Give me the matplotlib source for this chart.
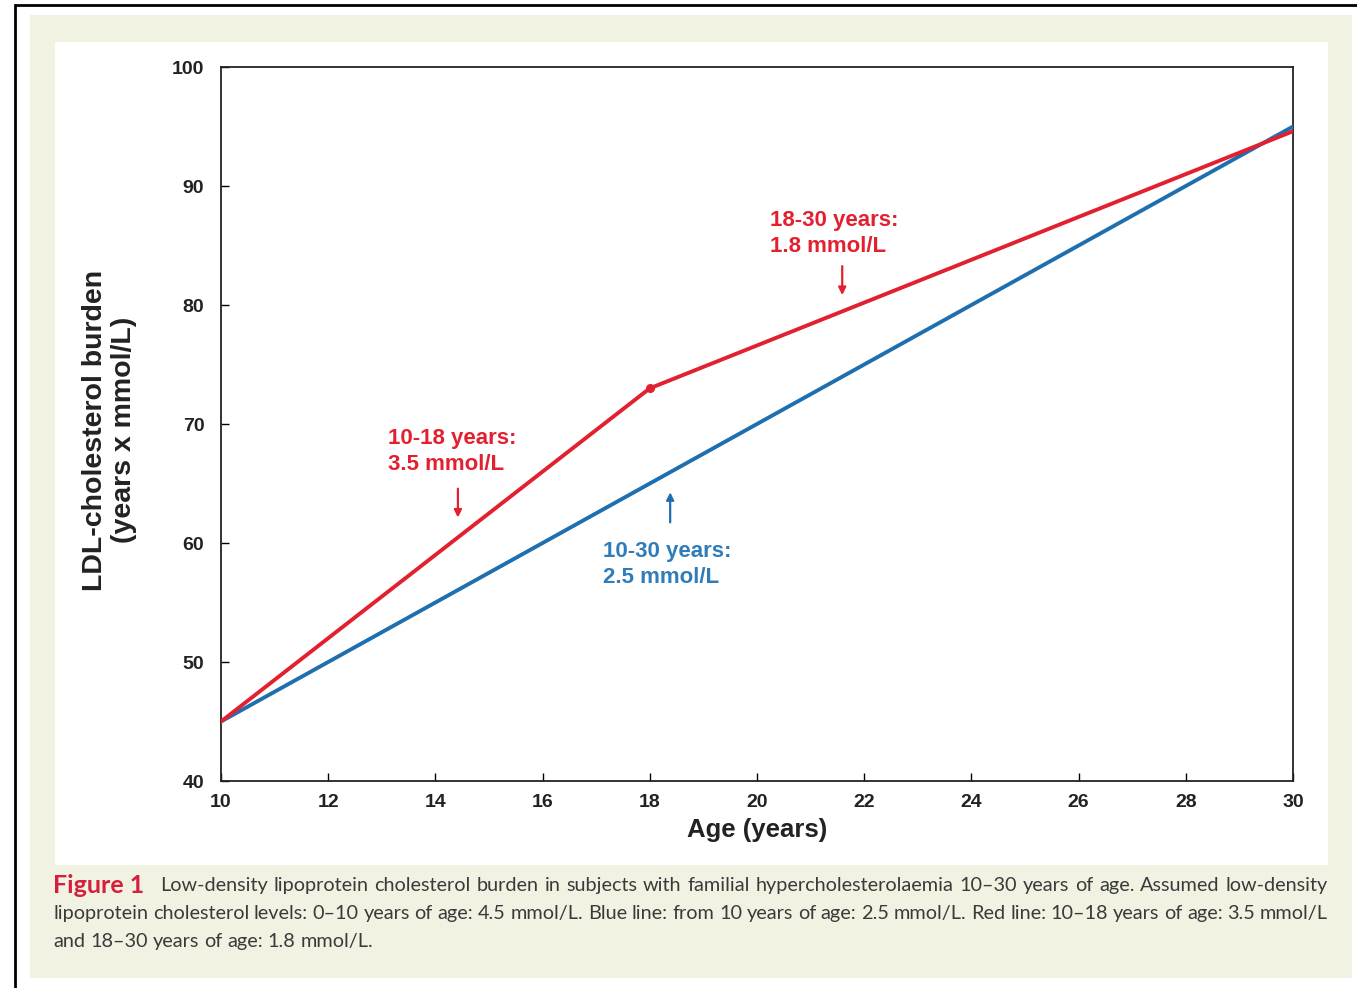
import matplotlib
matplotlib.use("Agg")
from matplotlib import pyplot as plt
from matplotlib.patches import Rectangle

# data
ages_blue = [10, 30]
burden_blue = [45, 95]
ages_red = [10, 18, 30]
burden_red = [45, 73, 94.6]

x_ticks = [10, 12, 14, 16, 18, 20, 22, 24, 26, 28, 30]
y_ticks = [40, 50, 60, 70, 80, 90, 100]

caption_lines = [
    "Low-density lipoprotein cholesterol burden in subjects with familial "
    "hypercholesterolaemia 10\u201330 years of age. Assumed low-density",
    "lipoprotein cholesterol levels: 0\u201310 years of age: 4.5 mmol/L. Blue line: from 10 "
    "years of age: 2.5 mmol/L. Red line: 10\u201318 years of age: 3.5 mmol/L",
    "and 18\u201330 years of age: 1.8 mmol/L.",
]

RED = "#e3202f"
BLUE = "#1f6faf"
BLUE_TEXT = "#2f7cbb"
BEIGE = "#f2f2e2"

W, H = 1357, 988


def px(x, y):
    """pixel (from top-left) -> figure fraction"""
    return x / W, 1 - y / H


def justify_line(fig, y, x0, x1, text, **kw):
    """place words so the line fills x0..x1 (pixels)"""
    words = text.split(" ")
    r = fig.canvas.get_renderer()
    texts = [fig.text(0, 1 - y / H, w, **kw) for w in words]
    widths = [t.get_window_extent(r).width for t in texts]
    if x1 is None:
        gap = texts[0].get_fontsize() * 100 / 72 * 0.25
    else:
        gap = (x1 - x0 - sum(widths)) / (len(words) - 1)
    x = x0
    for t, w in zip(texts, widths):
        t.set_x(x / W)
        x += w + gap


fig = plt.figure(figsize=(W / 100, H / 100), dpi=100)
fig.patch.set_facecolor("white")

# outer frame, beige panel, white plot panel
fig.add_artist(Rectangle(px(15, 1000), (W + 20) / W, 995 / H, transform=fig.transFigure,
                         facecolor="white", edgecolor="black", linewidth=2, zorder=0))
fig.add_artist(Rectangle(px(30, 978), 1322 / W, 963 / H, transform=fig.transFigure,
                         facecolor=BEIGE, edgecolor="none", zorder=0))
fig.add_artist(Rectangle(px(55, 865), 1273 / W, 823 / H, transform=fig.transFigure,
                         facecolor="white", edgecolor="none", zorder=0))

ax = fig.add_axes([221 / W, 1 - 781 / H, 1072 / W, 714 / H])
ax.set_facecolor("white")

ax.plot(ages_blue, burden_blue, color=BLUE, linewidth=2.8, zorder=3)
ax.plot(ages_red, burden_red, color=RED, linewidth=2.8, zorder=4)
ax.plot([ages_red[1]], [burden_red[1]], "o", color=RED, markersize=5.5, zorder=5)

ax.set_xlim(10, 30)
ax.set_ylim(40, 100)
ax.set_xticks(x_ticks)
ax.set_yticks(y_ticks)

bold = dict(family="Liberation Sans", fontweight="bold")
ax.set_xticklabels([str(t) for t in x_ticks], fontsize=14, color="#222222", **bold)
ax.set_yticklabels([str(t) for t in y_ticks], fontsize=14, color="#222222", **bold)
ax.tick_params(axis="x", direction="in", length=6, width=1, pad=9)
ax.tick_params(axis="y", direction="in", length=6, width=1, pad=12)
for s in ax.spines.values():
    s.set_linewidth(1.3)
    s.set_color("#222222")

fig.text(*px(757, 830), "Age (years)", ha="center", va="center", fontsize=18.5,
         color="#222222", **bold)
fig.text(*px(110, 430), "LDL-cholesterol burden\n(years x mmol/L)", ha="center",
         va="center", rotation=90, fontsize=20.5, color="#222222", linespacing=1.15, **bold)

# annotations
ann = dict(fontsize=16, va="top", ha="left", linespacing=1.35, **bold)
ax.text(13.12, 69.7, "10-18 years:\n3.5 mmol/L", color=RED, **ann)
ax.annotate("", xy=(14.42, 61.9), xytext=(14.42, 64.8),
            arrowprops=dict(arrowstyle="-|>", color=RED, lw=1.6, mutation_scale=11))

ax.text(20.24, 88.0, "18-30 years:\n1.8 mmol/L", color=RED, **ann)
ax.annotate("", xy=(21.59, 80.6), xytext=(21.59, 83.5),
            arrowprops=dict(arrowstyle="-|>", color=RED, lw=1.6, mutation_scale=11))

ax.text(17.13, 60.2, "10-30 years:\n2.5 mmol/L", color=BLUE_TEXT, **ann)
ax.annotate("", xy=(18.38, 64.5), xytext=(18.38, 61.5),
            arrowprops=dict(arrowstyle="-|>", color=BLUE, lw=1.6, mutation_scale=11))

# caption
cap = dict(family="Lato", fontsize=14.3, color="#3a3a3a", va="center", ha="left")
fig.text(*px(53, 885), "Figure 1", family="Lato", fontsize=18, fontweight="bold",
         color="#d4203f", va="center", ha="left")
justify_line(fig, 885, 160, 1328, caption_lines[0], **cap)
justify_line(fig, 913, 53, 1328, caption_lines[1], **cap)
justify_line(fig, 941, 53, None, caption_lines[2], **cap)

fig.savefig("out.png", dpi=100)
